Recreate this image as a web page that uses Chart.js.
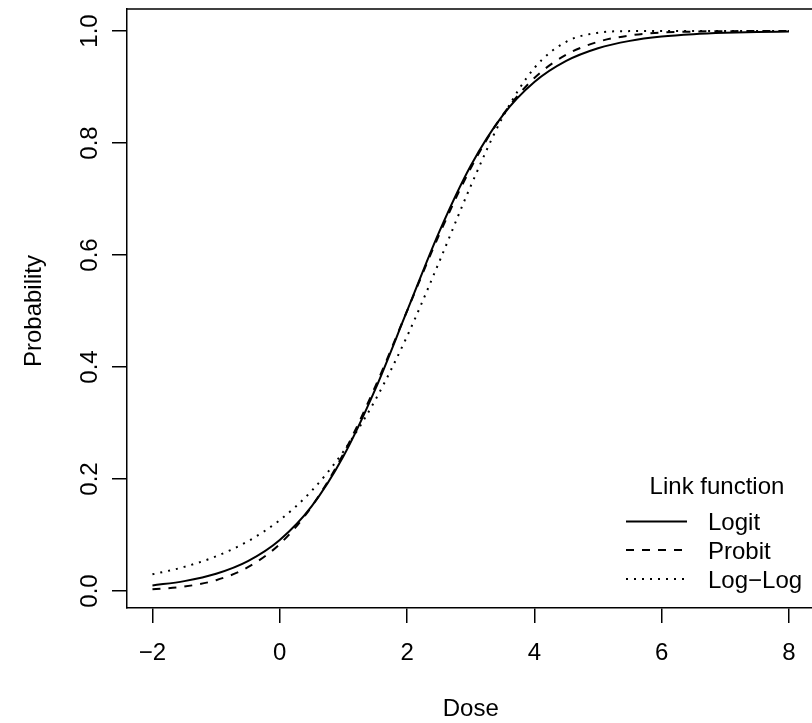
<!DOCTYPE html>
<html>
<head>
<meta charset="utf-8">
<script src="https://cdn.jsdelivr.net/npm/chart.js@4.4.1/dist/chart.umd.min.js"></script>
<style>
html,body{margin:0;padding:0;background:#fff;}
canvas{display:block;}
</style>
</head>
<body>
<canvas id="chart" width="812" height="723"></canvas>
<script>
// values, every half unit of dose
const doses=[-2,-1.5,-1,-0.5,0,0.5,1,1.5,2,2.5,3,3.5,4,4.5,5,5.5,6,6.5,7,7.5,8];
const logit=[0.0099,0.0176,0.0308,0.0534,0.0911,0.151,0.2405,0.360,0.5,0.640,0.7595,0.849,0.9089,0.9466,0.9692,0.9824,0.9901,0.9944,0.9968,0.9982,0.9990];
const probit=[0.0029,0.0079,0.0193,0.0424,0.0839,0.1505,0.2451,0.365,0.5,0.635,0.7549,0.8495,0.9161,0.9576,0.9807,0.9921,0.9971,0.9990,0.9997,0.9999,1.0];
const loglog=[0.0297,0.0430,0.0619,0.0888,0.1266,0.1787,0.2491,0.3409,0.4548,0.5863,0.7231,0.8456,0.9340,0.9808,0.9968,0.9998,1.0,1.0,1.0,1.0,1.0];
const seriesNames=["Logit","Probit","Log\u2212Log"];
const xTicks=[-2,0,2,4,6,8];
const xTickLabels=["\u22122","0","2","4","6","8"];
const yTicks=[0,0.2,0.4,0.6,0.8,1];
const yTickLabels=["0.0","0.2","0.4","0.6","0.8","1.0"];

const FONT='24px "Liberation Sans", Arial, sans-serif';

function pts(arr){
return doses.map((d,i)=>({x:d,y:arr[i]}));
}

// R style texts, top of the box and the legend
const rTexts={
id:"rTexts",
afterDraw(c){
const ctx=c.ctx, a=c.chartArea, xs=c.scales.x, ys=c.scales.y;
ctx.save();
ctx.strokeStyle="#000";
ctx.lineWidth=1.5;
ctx.beginPath();
ctx.moveTo(a.left,a.top);
ctx.lineTo(a.right,a.top);
ctx.stroke();

ctx.fillStyle="#000";
ctx.font=FONT;
ctx.textAlign="center";
ctx.textBaseline="alphabetic";
xTicks.forEach((v,i)=>ctx.fillText(xTickLabels[i],xs.getPixelForValue(v),660));
ctx.fillText("Dose",xs.getPixelForValue(3),716);

yTicks.forEach((v,i)=>{
ctx.save();
ctx.translate(96.6,ys.getPixelForValue(v));
ctx.rotate(-Math.PI/2);
ctx.fillText(yTickLabels[i],0,0);
ctx.restore();
});
ctx.save();
ctx.translate(41,ys.getPixelForValue(0.5));
ctx.rotate(-Math.PI/2);
ctx.fillText("Probability",0,0);
ctx.restore();

// legend
ctx.fillText("Link function",717,494);
const rows=[521.5,550,579];
c.data.datasets.forEach((ds,i)=>{
ctx.save();
ctx.strokeStyle=ds.borderColor;
ctx.lineWidth=ds.borderWidth;
ctx.setLineDash(ds.borderDash||[]);
ctx.beginPath();
ctx.moveTo(626,rows[i]);
ctx.lineTo(687,rows[i]);
ctx.stroke();
ctx.restore();
ctx.textAlign="left";
ctx.fillText(ds.label,708,rows[i]+8.6);
});
ctx.restore();
}
};

const ctx=document.getElementById("chart").getContext("2d");
const chart=new Chart(ctx,{
type:"line",
data:{
datasets:[
{label:seriesNames[0],data:pts(logit),borderColor:"#000",borderWidth:2,borderDash:[]},
{label:seriesNames[1],data:pts(probit),borderColor:"#000",borderWidth:2,borderDash:[8,8]},
{label:seriesNames[2],data:pts(loglog),borderColor:"#000",borderWidth:2,borderDash:[2,6]}
]
},
options:{
responsive:false,
animation:false,
devicePixelRatio:1,
layout:{padding:{top:9,left:0,right:0,bottom:0}},
elements:{
point:{radius:0},
line:{cubicInterpolationMode:"monotone",fill:false,borderCapStyle:"butt"}
},
plugins:{legend:{display:false},tooltip:{enabled:false}},
scales:{
x:{
type:"linear",
min:-2.4,
max:8.362,
afterBuildTicks:s=>{s.ticks=xTicks.map(v=>({value:v}));},
afterFit:s=>{s.height=115;},
ticks:{display:false},
grid:{drawOnChartArea:false,drawTicks:true,tickLength:15,color:"#000",lineWidth:1.5},
border:{display:true,color:"#000",width:1.5}
},
y:{
type:"linear",
min:-0.0304,
max:1.0393,
afterBuildTicks:s=>{s.ticks=yTicks.map(v=>({value:v}));},
afterFit:s=>{s.width=127;},
ticks:{display:false},
grid:{drawOnChartArea:false,drawTicks:true,tickLength:15,color:"#000",lineWidth:1.5},
border:{display:true,color:"#000",width:1.5}
}
}
},
plugins:[rTexts]
});
</script>
</body>
</html>
